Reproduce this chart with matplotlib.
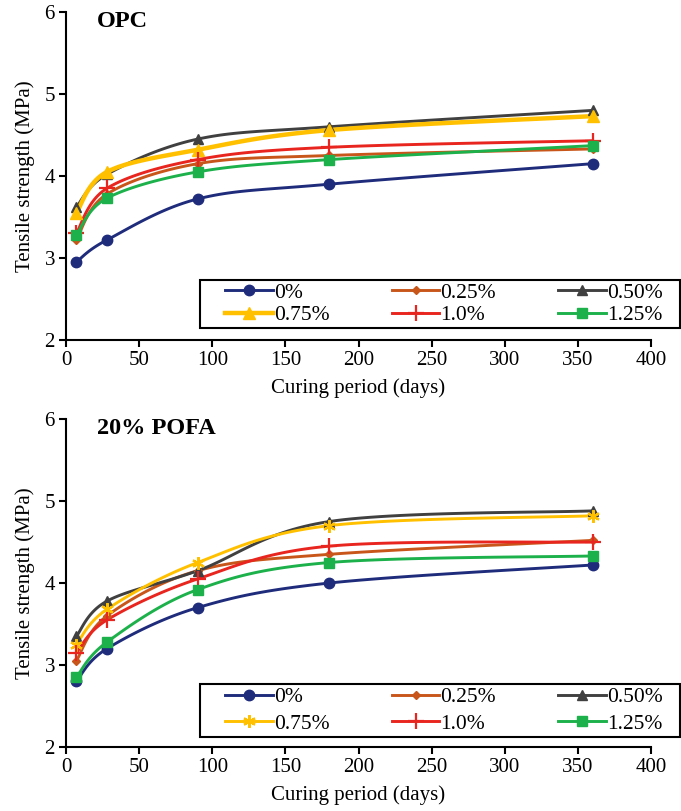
import numpy as np
import matplotlib
matplotlib.use('Agg')
import matplotlib.pyplot as plt
from matplotlib.patches import Rectangle

plt.rcParams['font.family'] = ['Liberation Serif', 'DejaVu Serif']

# data
days = [7, 28, 90, 180, 360]
labels = ['0%', '0.25%', '0.50%', '0.75%', '1.0%', '1.25%']

opc = {
    '0%':    [2.95, 3.22, 3.72, 3.90, 4.15],
    '0.25%': [3.22, 3.78, 4.15, 4.25, 4.33],
    '0.50%': [3.62, 4.02, 4.45, 4.60, 4.80],
    '0.75%': [3.55, 4.05, 4.32, 4.56, 4.73],
    '1.0%':  [3.30, 3.85, 4.20, 4.35, 4.43],
    '1.25%': [3.28, 3.73, 4.05, 4.20, 4.37],
}
pofa = {
    '0%':    [2.80, 3.20, 3.70, 4.00, 4.22],
    '0.25%': [3.05, 3.60, 4.15, 4.35, 4.52],
    '0.50%': [3.35, 3.78, 4.15, 4.75, 4.88],
    '0.75%': [3.25, 3.68, 4.25, 4.70, 4.82],
    '1.0%':  [3.15, 3.55, 4.05, 4.45, 4.50],
    '1.25%': [2.85, 3.28, 3.92, 4.25, 4.33],
}

colors = {'0%': '#1F2C7C', '0.25%': '#C8561A', '0.50%': '#404040',
          '0.75%': '#FFC000', '1.0%': '#E8251E', '1.25%': '#1DB14B'}


def smooth(x, y, n=30, yscale=55.0):
    # excel-like smoothed line: cubic bezier through the points
    p = np.column_stack([np.asarray(x, float), np.asarray(y, float) * yscale])
    out = [p[0]]
    for i in range(len(p) - 1):
        p0 = p[i - 1] if i > 0 else p[i]
        p3 = p[i + 2] if i + 2 < len(p) else p[i + 1]
        c1 = p[i] + (p[i + 1] - p0) / 6
        c2 = p[i + 1] - (p3 - p[i]) / 6
        t = np.linspace(0, 1, n)[1:, None]
        seg = ((1 - t) ** 3) * p[i] + 3 * ((1 - t) ** 2) * t * c1 + 3 * (1 - t) * t ** 2 * c2 + t ** 3 * p[i + 1]
        out.extend(seg)
    out = np.array(out)
    return out[:, 0], out[:, 1] / yscale


def draw(ax, data, title, star, box, lspace):
    markers = {'0%': ('o', 7.5), '0.25%': ('D', 4.5), '0.50%': ('^', 7),
               '0.75%': (star, 9 if star != '^' else 8), '1.0%': ('+', 11), '1.25%': ('s', 7.5)}
    handles = []
    for lab in labels:
        xs, ys = smooth(days, data[lab])
        lw = 3.2 if (lab == '0.75%' and star == '^') else 2.1
        ax.plot(xs, ys, color=colors[lab], lw=lw, zorder=2)
        m, ms = markers[lab]
        mew = 1.6 if m in ('+', (6, 2, 0)) else 1
        ax.plot(days, data[lab], ls='none', marker=m, ms=ms, color=colors[lab],
                mew=mew, zorder=3)
        h, = ax.plot([], [], color=colors[lab], lw=lw, marker=m, ms=ms, mew=mew)
        handles.append(h)

    ax.set_xlim(0, 400)
    ax.set_ylim(2, 6)
    ax.set_xticks(range(0, 401, 50))
    ax.set_yticks([2, 3, 4, 5, 6])
    ax.spines['top'].set_visible(False)
    ax.spines['right'].set_visible(False)
    for s in ('left', 'bottom'):
        ax.spines[s].set_linewidth(1.5)
    ax.tick_params(direction='out', length=5, width=1.5, labelsize=15, pad=3)
    ax.set_xlabel('Curing period (days)', fontsize=15, labelpad=6)
    ax.set_ylabel('Tensile strength (MPa)', fontsize=15, labelpad=7)
    ax.text(0.053, 0.97, title, transform=ax.transAxes, fontsize=17.5,
            fontweight='bold', va='center', ha='left')

    # legend box drawn by hand so it can run to the right edge like the original
    x0, y0, w, h = box
    fig.patches.append(Rectangle((x0, y0), w, h, transform=fig.transFigure,
                                 fill=True, facecolor='white', edgecolor='black',
                                 lw=1.5, zorder=5))
    order = [0, 3, 1, 4, 2, 5]
    leg = fig.legend([handles[i] for i in order], [labels[i] for i in order],
                     ncol=3, loc='center', bbox_to_anchor=(0.652, y0 + h / 2),
                     bbox_transform=fig.transFigure, borderaxespad=0,
                     fontsize=15.5, frameon=False, handlelength=2.2,
                     handletextpad=0.05, borderpad=0.0, labelspacing=lspace,
                     columnspacing=2.9)
    leg.set_zorder(6)


fig = plt.figure(figsize=(6.81, 8.11), dpi=100)
ax1 = fig.add_axes([0.097, 0.5808, 0.859, 0.4044])
ax2 = fig.add_axes([0.097, 0.0789, 0.859, 0.4044])

draw(ax1, opc, 'OPC', '^', (0.294, 0.5956, 0.704, 0.059), 0.1)
draw(ax2, pofa, '20% POFA', (6, 2, 0), (0.294, 0.0912, 0.704, 0.066), 0.3)

fig.savefig('out.png', dpi=100)
